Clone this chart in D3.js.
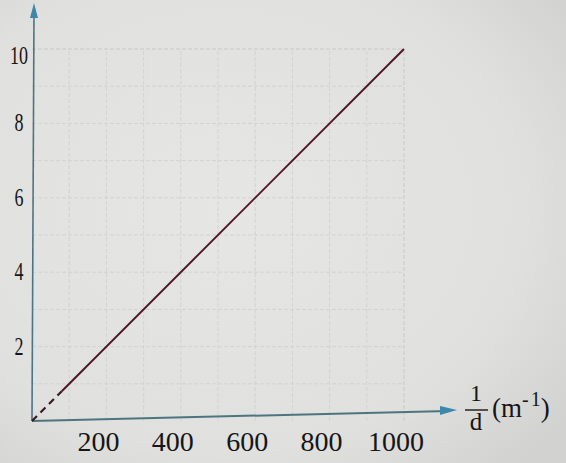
<!DOCTYPE html>
<html>
<head>
<meta charset="utf-8">
<script src="https://cdn.jsdelivr.net/npm/d3@7"></script>
<style>
  html, body { margin: 0; padding: 0; background: #dedede; }
  svg { display: block; }
</style>
</head>
<body>
<svg id="chart" width="566" height="463"></svg>
<script>
// data
const xTicks = [200, 400, 600, 800, 1000];
const yTicks = [2, 4, 6, 8, 10];
const lineX = [0, 80, 1000];
const lineY = [0, 0.8, 10];

const svg = d3.select("#chart");
const W = 566, H = 463;

// paper background
const defs = svg.append("defs");
const grad = defs.append("radialGradient").attr("id", "paper")
    .attr("cx", "40%").attr("cy", "45%").attr("r", "75%");
grad.append("stop").attr("offset", "0%").attr("stop-color", "#e6e6e4");
grad.append("stop").attr("offset", "70%").attr("stop-color", "#e0e0de");
grad.append("stop").attr("offset", "100%").attr("stop-color", "#d2d2d0");
svg.append("rect").attr("width", W).attr("height", H).attr("fill", "url(#paper)");

const x = d3.scaleLinear().domain([0, 1000]).range([32, 404]);
const y = d3.scaleLinear().domain([0, 10]).range([421, 49]);

// faint grid
const grid = svg.append("g").attr("stroke", "#d3d3d1").attr("stroke-width", 1)
    .attr("stroke-dasharray", "4,2");
grid.selectAll("line.v").data(d3.range(100, 1001, 100)).join("line")
    .attr("x1", d => x(d)).attr("x2", d => x(d))
    .attr("y1", y(0)).attr("y2", y(10))
    .attr("stroke", d => d === 1000 ? "#c8c8c6" : null);
grid.selectAll("line.h").data(d3.range(1, 11, 1)).join("line")
    .attr("x1", x(0)).attr("x2", x(1000))
    .attr("y1", d => y(d)).attr("y2", d => y(d))
    .attr("stroke", d => d === 10 ? "#c8c8c6" : null);

// axes with arrows
const axisColor = "#4d7580";
const arrowColor = "#3c88ad";
svg.append("line").attr("x1", x(0)).attr("y1", y(0)).attr("x2", 448).attr("y2", 411)
    .attr("stroke", axisColor).attr("stroke-width", 2);
svg.append("line").attr("x1", x(0)).attr("y1", y(0)).attr("x2", 34).attr("y2", 12)
    .attr("stroke", axisColor).attr("stroke-width", 1.6);
svg.append("path").attr("d", "M440,406 L457,410 L440,415 Z").attr("fill", arrowColor);
svg.append("path").attr("d", "M30,18 L34,3 L38,18 Z").attr("fill", arrowColor);

// tick labels
const font = "'Liberation Serif', 'DejaVu Serif', serif";
svg.append("g").selectAll("text").data(xTicks).join("text")
    .attr("x", d => x(d) - 8).attr("y", 451)
    .attr("text-anchor", "middle")
    .attr("font-family", font).attr("font-size", 28).attr("fill", "#161616")
    .text(d => d);
svg.append("g").selectAll("text").data(yTicks).join("text")
    .attr("transform", d => `translate(19,${y(d) + (d === 10 ? 15 : 8)}) scale(0.72,1)`)
    .attr("text-anchor", "middle")
    .attr("font-family", font).attr("font-size", 25).attr("fill", "#161616")
    .text(d => d);

// the line: dashed near the origin, solid after
const pts = lineX.map((v, i) => [x(v), y(lineY[i])]);
const line = d3.line();
svg.append("path").attr("d", line(pts.slice(0, 2)))
    .attr("stroke", "#3a1a22").attr("stroke-width", 2.2).attr("fill", "none")
    .attr("stroke-dasharray", "7,5");
svg.append("path").attr("d", line(pts.slice(1)))
    .attr("stroke", "#4e1428").attr("stroke-width", 1.9).attr("fill", "none");

// axis title 1/d (m^-1)
const title = svg.append("g").attr("font-family", font).attr("fill", "#161616");
title.append("text").attr("x", 476).attr("y", 401).attr("text-anchor", "middle")
    .attr("font-size", 24).text("1");
title.append("line").attr("x1", 465).attr("x2", 488).attr("y1", 410).attr("y2", 410)
    .attr("stroke", "#161616").attr("stroke-width", 1.4);
title.append("text").attr("x", 476).attr("y", 430).attr("text-anchor", "middle")
    .attr("font-size", 25).text("d");
const unit = title.append("text").attr("x", 492).attr("y", 417).attr("font-size", 27);
unit.append("tspan").text("(m");
unit.append("tspan").attr("font-size", 20).attr("dy", -11).text("-");
unit.append("tspan").attr("font-size", 20).attr("dx", 2).text("1");
unit.append("tspan").attr("dy", 11).text(")");
</script>
</body>
</html>
